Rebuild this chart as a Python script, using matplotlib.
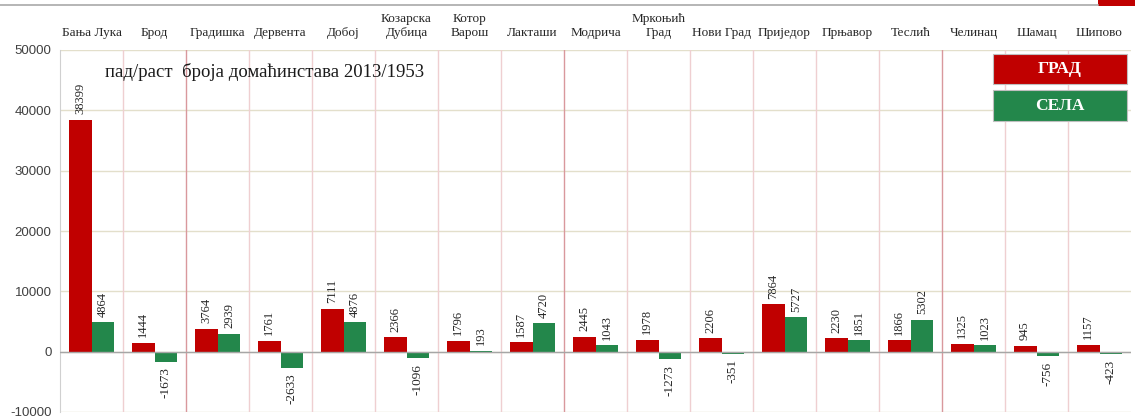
import numpy as np
import matplotlib.pyplot as plt
from matplotlib.patches import Rectangle
from matplotlib.lines import Line2D

# municipalities (top axis labels)
opstine = ['Бања Лука', 'Брод', 'Градишка', 'Дервента', 'Добој',
           'Козарска\nДубица', 'Котор\nВарош', 'Лакташи', 'Модрича',
           'Мркоњић\nГрад', 'Нови Град', 'Приједор', 'Прњавор', 'Теслић',
           'Челинац', 'Шамац', 'Шипово']

# change in number of households 2013 vs 1953
grad = [38399, 1444, 3764, 1761, 7111, 2366, 1796, 1587, 2445,
        1978, 2206, 7864, 2230, 1866, 1325, 945, 1157]
sela = [4864, -1673, 2939, -2633, 4876, -1096, 193, 4720, 1043,
        -1273, -351, 5727, 1851, 5302, 1023, -756, -423]

yticks = [-10000, 0, 10000, 20000, 30000, 40000, 50000]

RED = '#C00000'
GREEN = '#23874B'
SERIF = 'Liberation Serif'

W, H = 1135, 416
fig = plt.figure(figsize=(W / 100, H / 100), dpi=100)
ax = fig.add_axes([60 / W, 1 - 412 / H, 1071 / W, 362 / H])

x = np.arange(len(opstine))
bw = 0.365
ax.bar(x - bw / 2, grad, bw, color=RED, zorder=3)
ax.bar(x + bw / 2, sela, bw, color=GREEN, zorder=3)

# value labels, rotated
for xs, vals in ((x - bw / 2, grad), (x + bw / 2, sela)):
    for xi, v in zip(xs, vals):
        if v >= 0:
            ax.annotate(str(v), (xi, v), xytext=(0, 4), textcoords='offset points',
                        rotation=90, ha='center', va='bottom',
                        fontsize=9, family=SERIF, color='#262626', zorder=4)
        else:
            ax.annotate(str(v), (xi, v), xytext=(0, -4), textcoords='offset points',
                        rotation=90, ha='center', va='top',
                        fontsize=9.5, family=SERIF, color='#262626', zorder=4)

ax.set_xlim(-0.5, len(opstine) - 0.5)
ax.set_ylim(-10000, 50000)
ax.set_yticks(yticks)
ax.set_yticklabels([str(t) for t in yticks], fontsize=9.5,
                   family='Liberation Sans', color='#404040')
ax.tick_params(axis='y', length=0, pad=6)

ax.xaxis.tick_top()
ax.set_xticks(x)
ax.set_xticklabels(opstine, fontsize=9.5, family=SERIF, color='#262626',
                   linespacing=1.25)
ax.tick_params(axis='x', length=0, pad=8)

# horizontal grid
for t in yticks:
    ax.axhline(t, color='#E3DFCB', lw=1, zorder=1)
ax.axhline(0, color='#A6A6A6', lw=1, zorder=3.5)

# vertical separators between municipalities
for k in range(1, len(opstine)):
    c = '#D9989D' if k % 6 == 2 else '#EFCFD1'
    ax.axvline(k - 0.5, color=c, lw=1, zorder=1)

for s in ('top', 'right', 'bottom'):
    ax.spines[s].set_visible(False)
ax.spines['left'].set_color('#D0D0D0')

ax.text(105 / W, 1 - 72 / H, 'пад/раст  броја домаћинстава 2013/1953',
        transform=fig.transFigure, fontsize=13.5, family=SERIF,
        color='#1A1A1A', va='center', ha='left')

# legend boxes
for (y0, y1), lab, col in (((54, 84), 'ГРАД', RED), ((90, 121), 'СЕЛА', GREEN)):
    fig.add_artist(Rectangle((993 / W, 1 - y1 / H), 134 / W, (y1 - y0) / H,
                             transform=fig.transFigure, facecolor=col,
                             edgecolor='#BFBFBF', lw=0.8, zorder=5))
    fig.text(1060 / W, 1 - (y0 + y1) / 2 / H, lab, fontsize=12.5, family=SERIF,
             weight='bold', color='white', ha='center', va='center', zorder=6)

# frame line and tab at the very top
fig.add_artist(Line2D([0, 1098 / W], [1 - 5 / H, 1 - 5 / H],
                      transform=fig.transFigure, color='#A9A9A9', lw=1.2))
fig.add_artist(Rectangle((1098 / W, 1 - 6 / H), 37 / W, 6 / H,
                         transform=fig.transFigure, facecolor=RED, lw=0))

fig.savefig('out.png', dpi=100)
